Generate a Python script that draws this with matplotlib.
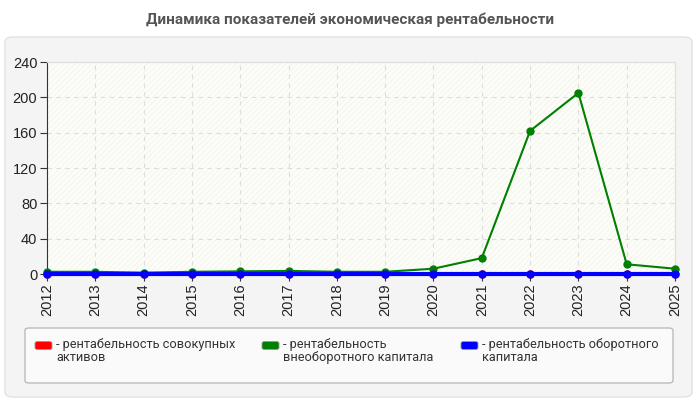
import matplotlib
matplotlib.use("Agg")
import matplotlib.pyplot as plt
from matplotlib.patches import FancyBboxPatch

years = [2012, 2013, 2014, 2015, 2016, 2017, 2018, 2019, 2020, 2021, 2022, 2023, 2024, 2025]
total_assets = [0.3, 0.3, 0.3, 0.3, 0.3, 0.3, 0.3, 0.3, 0.3, 0.3, 0.3, 0.3, 0.3, 0.3]
noncurrent = [2.5, 2.5, 1.5, 2.5, 3, 3.5, 2.5, 2.5, 6, 18, 162, 205, 11, 6]
current = [0.5, 0.5, 0.5, 0.5, 0.5, 0.5, 0.5, 0.5, 0.5, 0.5, 0.5, 0.5, 0.5, 0.5]
y_ticks = [0, 40, 80, 120, 160, 200, 240]

series_labels = ["- рентабельность совокупных\nактивов",
                 "- рентабельность\nвнеоборотного капитала",
                 "- рентабельность оборотного\nкапитала"]
series_colors = ["#ff0000", "#008000", "#0000ff"]
title = "Динамика показателей экономическая рентабельности"

narrow = "Roboto"
plt.rcParams['font.family'] = ['Liberation Sans', 'DejaVu Sans']
plt.rcParams['hatch.linewidth'] = 0.6

fig = plt.figure(figsize=(7, 4), dpi=100)
fig.patch.set_facecolor("white")

W, H = 700, 400
def fx(px): return px / W
def fy(py): return 1 - py / H

# outer panel
panel = FancyBboxPatch((fx(5), fy(397)), fx(687), 360 / H,
                       boxstyle="round,pad=0,rounding_size=0.012",
                       transform=fig.transFigure, facecolor="#f4f4f4",
                       edgecolor="#e2e2e2", linewidth=1, zorder=-10)
fig.patches.append(panel)

fig.text(0.5, fy(20), title, ha="center", va="center", fontsize=11,
         fontweight="bold", color="#555555", family=[narrow, 'DejaVu Sans'])

ax = fig.add_axes([fx(47), fy(274), fx(628), 212 / H])
ax.set_zorder(5)
ax.set_facecolor("#fdfdf8")
ax.fill_between([years[0], years[-1]], 0, 240, facecolor="none",
                edgecolor="#f2f2f0", hatch="//////", linewidth=0, zorder=0)

datasets = [total_assets, noncurrent, current]
for vals, col in zip(datasets, series_colors):
    lw = 3 if col == "#0000ff" else 1.5
    ax.plot(years, vals, color=col, linewidth=lw, marker="o", markersize=5,
            zorder=3, clip_on=False)

ax.set_xlim(years[0], years[-1])
ax.set_ylim(0, 240)
ax.set_xticks(years)
ax.set_xticklabels([str(y) for y in years], rotation=90, fontsize=10.5)
ax.set_yticks(y_ticks)
ax.set_yticklabels([str(v) for v in y_ticks], fontsize=10.5)
ax.tick_params(axis="both", direction="out", length=5, color="#333333",
               labelcolor="#222222", pad=2)
ax.grid(True, linestyle=(0, (4, 4)), color="#dddddd", linewidth=0.8)
ax.set_axisbelow(True)
for s in ["top", "right"]:
    ax.spines[s].set_color("#dddddd")
for s in ["left", "bottom"]:
    ax.spines[s].set_color("#333333")

# legend frame
leg = FancyBboxPatch((fx(25), fy(383)), fx(648), 55 / H,
                     boxstyle="round,pad=0,rounding_size=0.006",
                     transform=fig.transFigure, facecolor="#fafafa",
                     edgecolor="#bbbbbb", linewidth=1, zorder=1)
fig.patches.append(leg)

sw_x = [35, 262, 461]
for x0, lab, col in zip(sw_x, series_labels, series_colors):
    sw = FancyBboxPatch((fx(x0), fy(349.5)), fx(17), 8 / H,
                        boxstyle="round,pad=0,rounding_size=0.004",
                        transform=fig.transFigure, facecolor=col,
                        edgecolor="#999999", linewidth=0.6, zorder=2)
    fig.patches.append(sw)
    fig.text(fx(x0 + 21), fy(338), lab, ha="left", va="top", fontsize=9.2,
             color="#333333", family=[narrow, 'DejaVu Sans'], linespacing=1.0)

fig.savefig("out.png", dpi=100)
